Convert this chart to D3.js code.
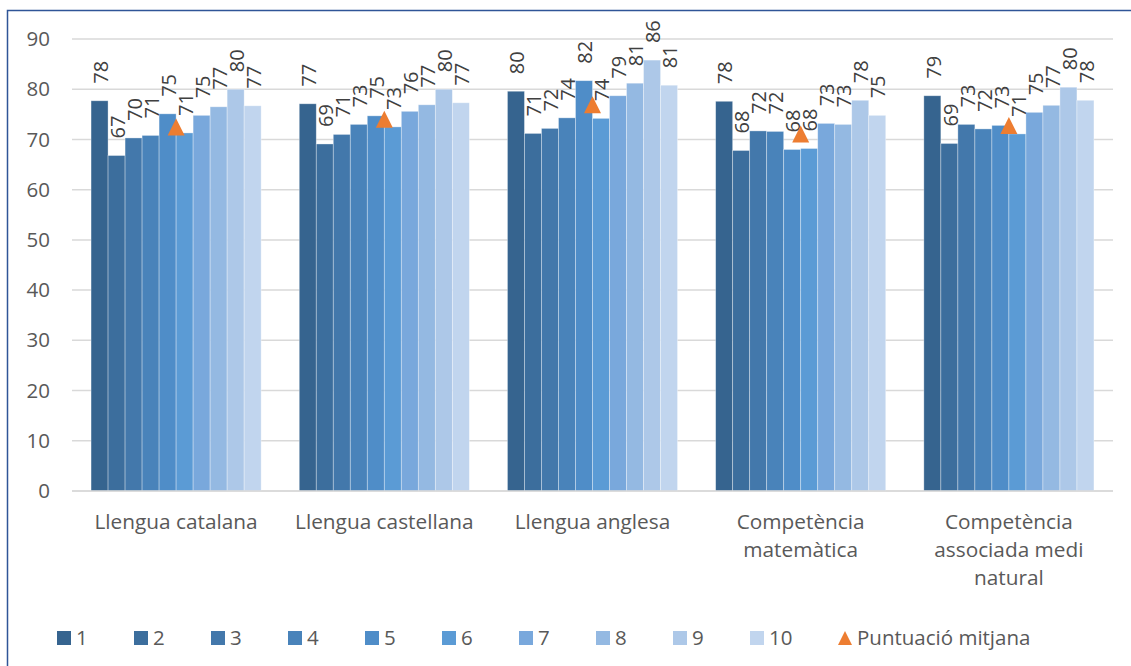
<!DOCTYPE html>
<html>
<head>
<meta charset="utf-8">
<script src="https://cdn.jsdelivr.net/npm/d3@7"></script>
<style>
  body { margin: 0; background: #fff; }
  text { font-family: "Open Sans", sans-serif; }
</style>
</head>
<body>
<svg id="chart"></svg>
<script>
const categories = ['Llengua catalana', 'Llengua castellana', 'Llengua anglesa', 'Competència matemàtica', 'Competència associada medi natural']
const seriesNames = ['1', '2', '3', '4', '5', '6', '7', '8', '9', '10']
// one row per category, one value per series 1..10
const scores = [
    [77.7, 66.8, 70.3, 70.8, 75.1, 71.3, 74.8, 76.5, 80.0, 76.7],
    [77.1, 69.1, 71.0, 73.0, 74.7, 72.5, 75.6, 76.9, 80.0, 77.3],
    [79.6, 71.2, 72.2, 74.3, 81.7, 74.2, 78.7, 81.2, 85.8, 80.8],
    [77.6, 67.8, 71.7, 71.6, 68.0, 68.2, 73.2, 73.0, 77.8, 74.8],
    [78.7, 69.2, 73.0, 72.1, 72.8, 71.1, 75.4, 76.8, 80.4, 77.8]
]
const average = [72.5, 74.0, 76.9, 71.1, 72.8]
const yTicks = [0, 10, 20, 30, 40, 50, 60, 70, 80, 90]
const avgName = 'Puntuació mitjana'

const colors = ['#36648f', '#3c6e9d', '#4378ab', '#4983ba', '#4f8dc8', '#5b9bd5', '#79a8dc', '#94b9e2', '#adc8e8', '#c1d5ee']

const W = 1131, H = 666
const svg = d3.select('#chart').attr('width', W).attr('height', H)

// outer frame (runs off the right and bottom edges)
svg.append('rect')
    .attr('x', 7.5).attr('y', 10.5)
    .attr('width', 1300).attr('height', 800)
    .attr('fill', 'none')
    .attr('stroke', '#2f5597')
    .attr('stroke-width', 1.5)

const x = d3.scaleBand().domain(categories).range([72, 1113])
const x1 = d3.scaleBand().domain(seriesNames).range([0, x.bandwidth()]).paddingOuter(1.12)
const y = d3.scaleLinear().domain([0, 90]).range([491, 39])
const color = d3.scaleOrdinal().domain(seriesNames).range(colors)

// gridlines
svg.append('g')
    .selectAll('line')
    .data(yTicks)
    .join('line')
    .attr('x1', 72).attr('x2', 1113)
    .attr('y1', d => y(d)).attr('y2', d => y(d))
    .attr('stroke', '#d9d9d9')
    .attr('stroke-width', 1.5)

// y axis labels
const yAxis = svg.append('g')
    .attr('transform', 'translate(50,0)')
    .call(d3.axisLeft(y).tickValues(yTicks).tickSize(0).tickPadding(0))
yAxis.select('.domain').remove()
yAxis.selectAll('text')
    .attr('font-size', 20.5)
    .attr('fill', '#595959')
    .style('font-family', '"Open Sans", sans-serif')

// bars
const groups = svg.append('g')
    .selectAll('g')
    .data(categories)
    .join('g')
    .attr('transform', d => `translate(${x(d)},0)`)

groups.selectAll('rect')
    .data((c, i) => scores[i].map((v, j) => ({ s: seriesNames[j], v })))
    .join('rect')
    .attr('x', d => x1(d.s))
    .attr('width', x1.bandwidth())
    .attr('y', d => y(d.v))
    .attr('height', d => y(0) - y(d.v))
    .attr('fill', d => color(d.s))
    .attr('stroke', 'rgba(255,255,255,0.45)')
    .attr('stroke-width', 0.75)

groups.selectAll('text.lbl')
    .data((c, i) => scores[i].map((v, j) => ({ s: seriesNames[j], v })))
    .join('text')
    .attr('class', 'lbl')
    .attr('transform', d => `translate(${x1(d.s) + x1.bandwidth() / 2 + 1},${y(d.v) - 17}) rotate(-90)`)
    .attr('dy', '0.36em')
    .attr('font-size', 20)
    .attr('fill', '#404040')
    .text(d => d3.format('.0f')(d.v))

// zero line
svg.append('line')
    .attr('x1', 72).attr('x2', 1113)
    .attr('y1', y(0)).attr('y2', y(0))
    .attr('stroke', '#d9d9d9')
    .attr('stroke-width', 1.5)

// average markers
const tri = 'M0,-8.5L8.5,8.5L-8.5,8.5Z'
svg.append('g')
    .selectAll('path')
    .data(categories)
    .join('path')
    .attr('d', tri)
    .attr('transform', (d, i) => `translate(${x(d) + x.bandwidth() / 2},${y(average[i])})`)
    .attr('fill', '#ed7d31')

// category labels with wrapping
const catG = svg.append('g')
categories.forEach(c => {
    const cx = x(c) + x.bandwidth() / 2
    const t = catG.append('text')
        .attr('x', cx)
        .attr('y', 529)
        .attr('text-anchor', 'middle')
        .attr('font-size', 20.8)
        .attr('fill', '#595959')
    const words = c.split(' ')
    let line = []
    let tspan = t.append('tspan').attr('x', cx).attr('dy', 0)
    words.forEach(w => {
        line.push(w)
        tspan.text(line.join(' '))
        if (tspan.node().getComputedTextLength() > x.bandwidth() - 8 && line.length > 1) {
            line.pop()
            tspan.text(line.join(' '))
            line = [w]
            tspan = t.append('tspan').attr('x', cx).attr('dy', 28).text(w)
        }
    })
})

// legend
const legend = svg.append('g').attr('transform', 'translate(57,638)')
const step = 77
seriesNames.forEach((s, i) => {
    const g = legend.append('g').attr('transform', `translate(${i * step},0)`)
    g.append('rect').attr('x', 0).attr('y', -7).attr('width', 14).attr('height', 14).attr('fill', color(s))
    g.append('text').attr('x', 19).attr('dy', '0.35em').attr('font-size', 20.5).attr('fill', '#595959').text(s)
})
const lg = legend.append('g').attr('transform', `translate(${781 + 7},0)`)
lg.append('path').attr('d', 'M0,-7L7,7L-7,7Z').attr('fill', '#ed7d31')
lg.append('text').attr('x', 12).attr('dy', '0.35em').attr('font-size', 20.5).attr('fill', '#595959').text(avgName)
</script>
</body>
</html>
